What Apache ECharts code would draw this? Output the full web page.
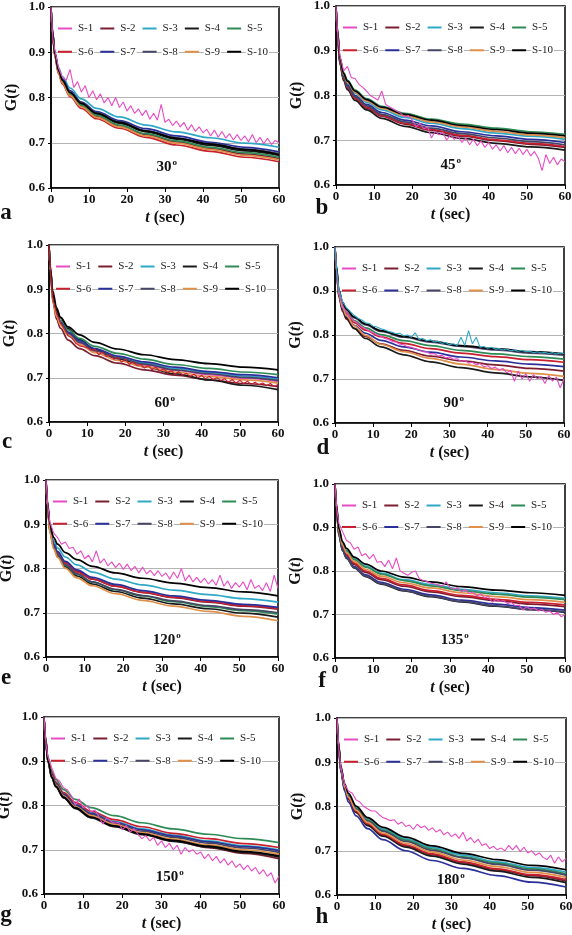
<!DOCTYPE html>
<html><head><meta charset="utf-8">
<script src="https://cdn.jsdelivr.net/npm/echarts/dist/echarts.min.js"></script>
<style>html,body{margin:0;padding:0;background:#fff}#c{width:572px;height:935px}</style>
</head><body><div id="c"></div>
<script>
const NAMES = ['S-1','S-2','S-3','S-4','S-5','S-6','S-7','S-8','S-9','S-10'];
const COLORS = ['#e84cc4','#7b1e32','#2fa8c6','#1a1a1a','#2e8b57','#c8202e','#2b2f9a','#454566','#e0904a','#000000'];
const LETTERS = ['a','b','c','d','e','f','g','h'];
const ANGLES = ['30','45','60','90','120','135','150','180'];
const X_TICKS = [0,10,20,30,40,50,60];
const Y_TICKS = [0.6,0.7,0.8,0.9,1.0];
// sample times for smooth curves
const T = [0,0.4,1,2,3,5,8,12,18,25,33,42,51,60];
// sample times for noisy curves
const TN = [0,0.5,1,2,3,4,5,6,7,8,9,10,11,12,13,14,15,16,17,18,19,20,21,22,23,24,25,26,27,28,29,30,
  31,32,33,34,35,36,37,38,39,40,41,42,43,44,45,46,47,48,49,50,51,52,53,54,55,56,57,58,59,60];

const P30 = [
 [1,.93,
  .905,.865,.845,.838,.862,.822,.835,.812,.826,.800,
  .815,.795,.808,.788,.800,.782,.800,.778,.790,.770,
  .782,.765,.775,.760,.772,.752,.765,.750,.785,.745,
  .752,.738,.748,.735,.745,.728,.740,.725,.735,.722,
  .730,.715,.728,.712,.725,.710,.720,.706,.718,.705,
  .715,.702,.718,.700,.712,.698,.710,.696,.705,.700],
 [1,.944,.893,.855,.834,.806,.781,.758,.737,.718,.702,.687,.675,.665],
 [1,.948,.901,.866,.846,.821,.797,.776,.757,.739,.724,.711,.699,.690],
 [1,.945,.896,.858,.837,.810,.785,.764,.743,.724,.708,.694,.682,.672],
 [1,.945,.894,.856,.835,.808,.783,.761,.739,.720,.704,.690,.678,.668],
 [1,.943,.891,.852,.830,.802,.776,.753,.732,.712,.695,.681,.668,.658],
 [1,.947,.898,.861,.841,.815,.790,.769,.749,.731,.715,.701,.690,.680],
 [1,.946,.897,.860,.839,.812,.788,.766,.746,.727,.711,.698,.686,.676],
 [1,.944,.893,.854,.832,.804,.779,.756,.735,.715,.699,.685,.672,.662],
 [1,.945,.897,.859,.838,.811,.787,.765,.745,.726,.710,.697,.685,.674]
];
const P45 = [
 [1,.93,
  .89,.855,.865,.84,.838,.825,.818,.81,.80,.795,
  .79,.81,.78,.775,.77,.765,.76,.752,.755,.745,
  .73,.738,.725,.73,.705,.72,.712,.718,.70,.712,
  .702,.708,.695,.705,.69,.702,.688,.698,.684,.695,
  .68,.69,.676,.688,.672,.684,.67,.682,.668,.68,
  .665,.675,.66,.632,.668,.648,.662,.645,.658,.652],
 [1,.940,.874,.836,.817,.793,.772,.754,.736,.722,.709,.699,.691,.684],
 [1,.943,.881,.845,.827,.805,.785,.768,.751,.738,.726,.716,.709,.702],
 [1,.939,.871,.833,.813,.789,.768,.749,.731,.717,.704,.693,.685,.678],
 [1,.945,.885,.851,.834,.812,.793,.776,.760,.747,.736,.727,.719,.713],
 [1,.940,.874,.837,.818,.794,.774,.755,.738,.724,.711,.701,.693,.686],
 [1,.942,.878,.841,.823,.800,.780,.762,.745,.732,.719,.710,.702,.695],
 [1,.941,.876,.839,.820,.797,.777,.758,.741,.727,.715,.705,.697,.690],
 [1,.944,.882,.847,.829,.807,.788,.771,.755,.741,.730,.720,.712,.706],
 [1,.945,.884,.849,.832,.810,.791,.774,.758,.745,.733,.724,.716,.710]
];
const P60 = [
 [1,.941,.877,.840,.821,.798,.778,.760,.743,.729,.717,.707,.699,.692],
 [1,.940,.872,.832,.812,.785,.766,.750,.733,.718,.706,.695,.687,.680],
 [1,.942,.879,.842,.824,.802,.782,.764,.747,.733,.721,.712,.704,.697],
 [1,.945,.896,.858,.837,.811,.786,.764,.743,.725,.709,.695,.683,.673],
 [1,.944,.883,.848,.830,.808,.789,.771,.755,.742,.730,.721,.713,.707],
 [1,.93,
  .88,.845,.825,.81,.795,.79,.778,.772,.77,.768,
  .762,.765,.752,.758,.748,.752,.742,.746,.735,.742,
  .73,.736,.728,.73,.722,.728,.718,.724,.715,.72,
  .712,.716,.708,.714,.706,.71,.703,.708,.70,.705,
  .698,.703,.696,.70,.694,.698,.69,.696,.688,.694,
  .687,.692,.685,.69,.684,.688,.682,.687,.68,.685],
 [1,.943,.880,.844,.826,.803,.784,.766,.749,.736,.724,.714,.707,.700],
 [1,.942,.878,.841,.823,.800,.780,.761,.745,.731,.718,.709,.701,.694],
 [1,.941,.875,.838,.819,.796,.775,.757,.739,.725,.713,.703,.695,.688],
 [1,.946,.887,.853,.836,.815,.797,.780,.765,.752,.741,.732,.724,.718]
];
const P90 = [
 [1,.935,
  .90,.866,.852,.84,.832,.826,.818,.815,.808,.805,
  .80,.797,.792,.79,.785,.784,.779,.778,.773,.772,
  .768,.767,.762,.762,.757,.758,.752,.754,.748,.75,
  .745,.746,.74,.742,.736,.738,.732,.735,.728,.73,
  .724,.727,.72,.724,.714,.72,.695,.718,.70,.712,
  .695,.71,.70,.706,.69,.708,.695,.704,.68,.70],
 [1,.946,.887,.853,.836,.815,.797,.780,.765,.752,.741,.732,.724,.718],
 [1,.94,
  .905,.875,.862,.853,.845,.838,.834,.828,.826,.82,
  .818,.814,.812,.808,.806,.803,.804,.798,.80,.795,
  .805,.79,.792,.787,.789,.784,.786,.781,.783,.778,
  .78,.776,.795,.776,.81,.78,.795,.772,.774,.77,
  .772,.768,.769,.766,.768,.764,.766,.763,.765,.762,
  .763,.76,.762,.759,.761,.758,.76,.757,.759,.758],
 [1,.945,.891,.858,.839,.815,.792,.773,.755,.739,.726,.714,.705,.697],
 [1,.952,.898,.867,.852,.833,.816,.801,.787,.776,.765,.757,.751,.745],
 [1,.950,.895,.864,.848,.828,.811,.796,.781,.769,.759,.751,.744,.738],
 [1,.948,.891,.859,.842,.822,.804,.788,.773,.761,.750,.741,.734,.728],
 [1,.953,.902,.872,.857,.839,.823,.808,.795,.784,.774,.766,.759,.754],
 [1,.947,.894,.862,.844,.821,.799,.779,.762,.747,.734,.722,.713,.706],
 [1,.954,.903,.874,.859,.841,.825,.810,.797,.786,.776,.769,.762,.757]
];
const P120 = [
 [1,.94,
  .905,.88,.87,.855,.86,.845,.848,.832,.84,.822,
  .83,.815,.84,.812,.822,.806,.815,.802,.812,.798,
  .81,.795,.805,.79,.803,.788,.796,.784,.795,.782,
  .79,.776,.792,.778,.80,.772,.785,.77,.78,.768,
  .778,.765,.775,.762,.785,.76,.772,.755,.768,.758,
  .77,.752,.775,.755,.762,.75,.768,.748,.785,.755],
 [1,.944,.888,.853,.835,.813,.794,.776,.760,.746,.734,.724,.715,.708],
 [1,.948,.895,.862,.846,.826,.808,.792,.776,.763,.751,.741,.732,.724],
 [1,.942,.883,.847,.828,.804,.783,.765,.748,.733,.720,.709,.699,.690],
 [1,.943,.885,.849,.830,.807,.787,.769,.752,.738,.725,.714,.705,.697],
 [1,.944,.888,.852,.834,.812,.792,.776,.760,.746,.735,.725,.716,.710],
 [1,.945,.890,.855,.838,.816,.797,.780,.764,.750,.738,.728,.719,.712],
 [1,.943,.886,.850,.831,.808,.788,.770,.753,.739,.727,.716,.707,.700],
 [1,.941,.881,.844,.825,.800,.779,.761,.743,.728,.715,.703,.692,.682],
 [1,.950,.900,.870,.855,.836,.820,.805,.790,.778,.767,.757,.747,.738]
];
const P135 = [
 [1,.94,
  .91,.89,.87,.865,.85,.855,.835,.84,.828,.838,
  .82,.822,.81,.825,.805,.83,.80,.795,.79,.797,
  .80,.782,.778,.776,.772,.77,.768,.765,.775,.762,
  .758,.762,.752,.758,.748,.752,.742,.748,.738,.742,
  .728,.735,.73,.732,.725,.728,.72,.722,.71,.718,
  .712,.715,.708,.712,.705,.708,.70,.705,.695,.70],
 [1,.946,.887,.853,.836,.815,.797,.780,.765,.752,.741,.732,.724,.718],
 [1,.950,.895,.863,.847,.828,.811,.795,.780,.769,.758,.750,.743,.737],
 [1,.944,.882,.846,.829,.807,.787,.770,.754,.741,.729,.719,.711,.705],
 [1,.949,.894,.862,.846,.826,.809,.793,.778,.766,.755,.747,.740,.734],
 [1,.947,.889,.855,.839,.818,.800,.783,.768,.755,.744,.735,.728,.722],
 [1,.945,.884,.849,.832,.810,.791,.774,.758,.745,.733,.724,.716,.710],
 [1,.944,.883,.847,.830,.808,.788,.771,.755,.742,.730,.720,.712,.706],
 [1,.948,.891,.859,.842,.822,.804,.788,.773,.761,.750,.741,.734,.728],
 [1,.951,.898,.867,.852,.832,.816,.800,.786,.775,.764,.756,.750,.744]
];
const P150 = [
 [1,.94,
  .91,.885,.862,.855,.84,.835,.822,.80,.815,.795,
  .80,.785,.79,.775,.758,.772,.765,.76,.762,.745,
  .755,.74,.748,.735,.725,.732,.72,.728,.71,.72,
  .705,.715,.70,.71,.69,.705,.695,.70,.69,.695,
  .68,.69,.675,.685,.67,.68,.665,.675,.66,.668,
  .655,.665,.652,.66,.645,.655,.64,.648,.625,.64],
 [1,.948,.900,.864,.844,.818,.794,.773,.753,.735,.720,.705,.692,.680],
 [1,.950,.905,.870,.851,.826,.803,.784,.764,.747,.733,.720,.709,.700],
 [1,.947,.899,.862,.842,.817,.793,.772,.752,.734,.719,.706,.694,.684],
 [1,.953,.910,.877,.859,.836,.814,.795,.777,.761,.747,.735,.725,.716],
 [1,.951,.906,.872,.853,.829,.807,.787,.768,.752,.737,.725,.714,.705],
 [1,.950,.904,.869,.850,.825,.802,.782,.762,.745,.731,.718,.707,.698],
 [1,.949,.903,.868,.848,.823,.800,.780,.760,.742,.728,.715,.704,.694],
 [1,.948,.902,.866,.846,.821,.797,.777,.757,.739,.724,.711,.700,.690],
 [1,.948,.901,.864,.844,.819,.795,.774,.754,.736,.721,.708,.696,.686]
];
const P180 = [
 [1,.93,
  .89,.85,.835,.83,.815,.81,.80,.795,.79,.79,
  .782,.775,.772,.768,.77,.76,.765,.755,.758,.748,
  .76,.752,.756,.746,.752,.742,.748,.736,.742,.732,
  .738,.728,.742,.722,.73,.718,.726,.712,.716,.705,
  .71,.702,.706,.70,.712,.702,.712,.698,.708,.695,
  .70,.69,.695,.685,.68,.69,.672,.686,.675,.682],
 [1,.939,.883,.841,.817,.788,.759,.735,.711,.691,.673,.657,.644,.632],
 [1,.942,.889,.849,.827,.799,.772,.749,.727,.707,.690,.675,.662,.652],
 [1,.938,.882,.840,.816,.786,.757,.733,.708,.688,.670,.654,.640,.628],
 [1,.941,.888,.848,.825,.796,.769,.746,.724,.704,.686,.672,.659,.648],
 [1,.939,.884,.842,.818,.789,.761,.737,.713,.693,.675,.659,.646,.635],
 [1,.936,.879,.835,.810,.779,.750,.725,.700,.678,.660,.644,.629,.618],
 [1,.941,.887,.846,.824,.794,.767,.744,.721,.701,.684,.669,.656,.645],
 [1,.940,.886,.844,.821,.792,.764,.740,.717,.697,.679,.664,.651,.640],
 [1,.943,.891,.851,.830,.801,.775,.753,.731,.711,.694,.680,.667,.657]
];
const PANELS = [P30,P45,P60,P90,P120,P135,P150,P180];

// layout (px): left, top, width, height of each plot area
const GRIDS = [[51,7,228,181],[336,6,229,179],[49,245,229,177],[335,247,229,176],
               [46,480,232,177],[335,484,230,174],[44,717,235,177],[337,718,229,177]];
const LETTER_POS = [[6,213],[322,208],[7,442],[323,448],[6,678],[322,681],[6,915],[322,917]];
const ANGLE_POS = [[164,167],[448,165],[162,403],[451,403],[164,640],[452,640],[167,877],[448,880]];

const FONT = 'Liberation Serif';
const chart = echarts.init(document.getElementById('c'), null, {renderer:'canvas', width:572, height:935});
const grids=[], xAxes=[], yAxes=[], series=[], legends=[], graphics=[];
const richName = {
  b:{fontFamily:FONT,fontWeight:'bold',fontSize:16,color:'#111'},
  i:{fontFamily:FONT,fontWeight:'bold',fontStyle:'italic',fontSize:16,color:'#111'}
};
PANELS.forEach((P,p)=>{
  const [gl,gt,gw,gh] = GRIDS[p];
  grids.push({left:gl,top:gt,width:gw,height:gh,show:true,borderColor:'#000',borderWidth:1.5,
    backgroundColor:'transparent',containLabel:false,outerBoundsMode:'none'});
  xAxes.push({type:'value',gridIndex:p,min:X_TICKS[0],max:X_TICKS[X_TICKS.length-1],interval:10,
    name:'{i|t}{b| (sec)}',nameLocation:'middle',nameGap:22,nameTextStyle:{rich:richName},
    axisLine:{show:true,onZero:false,lineStyle:{color:'#000',width:1.5}},
    axisTick:{show:true,length:4,lineStyle:{color:'#000',width:1}},
    axisLabel:{fontFamily:FONT,fontWeight:'bold',fontSize:13,color:'#111',margin:5},
    splitLine:{show:false}});
  yAxes.push({type:'value',gridIndex:p,min:Y_TICKS[0],max:Y_TICKS[Y_TICKS.length-1],interval:0.1,
    name:'{b|G(}{i|t}{b|)}',nameLocation:'middle',nameRotate:90,nameGap:31,nameTextStyle:{rich:richName},
    axisLine:{show:true,onZero:false,lineStyle:{color:'#000',width:1.5}},
    axisTick:{show:true,length:3,lineStyle:{color:'#000',width:1}},
    axisLabel:{fontFamily:FONT,fontWeight:'bold',fontSize:13,color:'#111',margin:6,formatter:v=>v.toFixed(1)},
    splitLine:{show:true,lineStyle:{color:'#b4b4b4',width:1}}});
  P.forEach((arr,k)=>{
    const noisy = arr.length > T.length;
    const times = noisy ? TN : T;
    series.push({type:'line',name:NAMES[k],xAxisIndex:p,yAxisIndex:p,
      data:arr.map((y,i)=>[times[i],y]),
      symbol:'none',showSymbol:false,smooth:noisy?false:0.35,smoothMonotone:'x',
      lineStyle:{color:COLORS[k],width:noisy?1.1:1.7},itemStyle:{color:COLORS[k]},
      z:noisy?4:3,silent:true,animation:false});
  });
  const ls = {fontFamily:FONT,fontSize:11,color:'#222',backgroundColor:'#fff',padding:[0,1]};
  legends.push({left:gl+7,top:gt+22-6,padding:0,itemGap:6,itemWidth:14,itemHeight:2,icon:'rect',
    selectedMode:false,data:NAMES.slice(0,5),textStyle:ls});
  legends.push({left:gl+7,top:gt+gh/4-6,padding:0,itemGap:6,itemWidth:14,itemHeight:2,icon:'rect',
    selectedMode:false,data:NAMES.slice(5),textStyle:ls});
  const [lx,ly] = LETTER_POS[p];
  graphics.push({type:'text',x:lx,y:ly,style:{text:LETTERS[p],fontFamily:FONT,fontWeight:'bold',
    fontSize:23,fill:'#111',textAlign:'center',textVerticalAlign:'middle'},z:10});
  const [ax,ay] = ANGLE_POS[p];
  const half = ANGLES[p].length*15*0.25;
  graphics.push({type:'text',x:ax,y:ay,style:{text:ANGLES[p],fontFamily:FONT,fontWeight:'bold',
    fontSize:15,fill:'#111',textAlign:'center',textVerticalAlign:'middle'},z:10});
  graphics.push({type:'text',x:ax+half+1,y:ay-4,style:{text:'o',fontFamily:FONT,fontWeight:'bold',
    fontSize:9,fill:'#111',textAlign:'left',textVerticalAlign:'middle'},z:10});
});
chart.setOption({animation:false,backgroundColor:'#fff',grid:grids,xAxis:xAxes,yAxis:yAxes,
  series:series,legend:legends,graphic:graphics});
</script></body></html>
